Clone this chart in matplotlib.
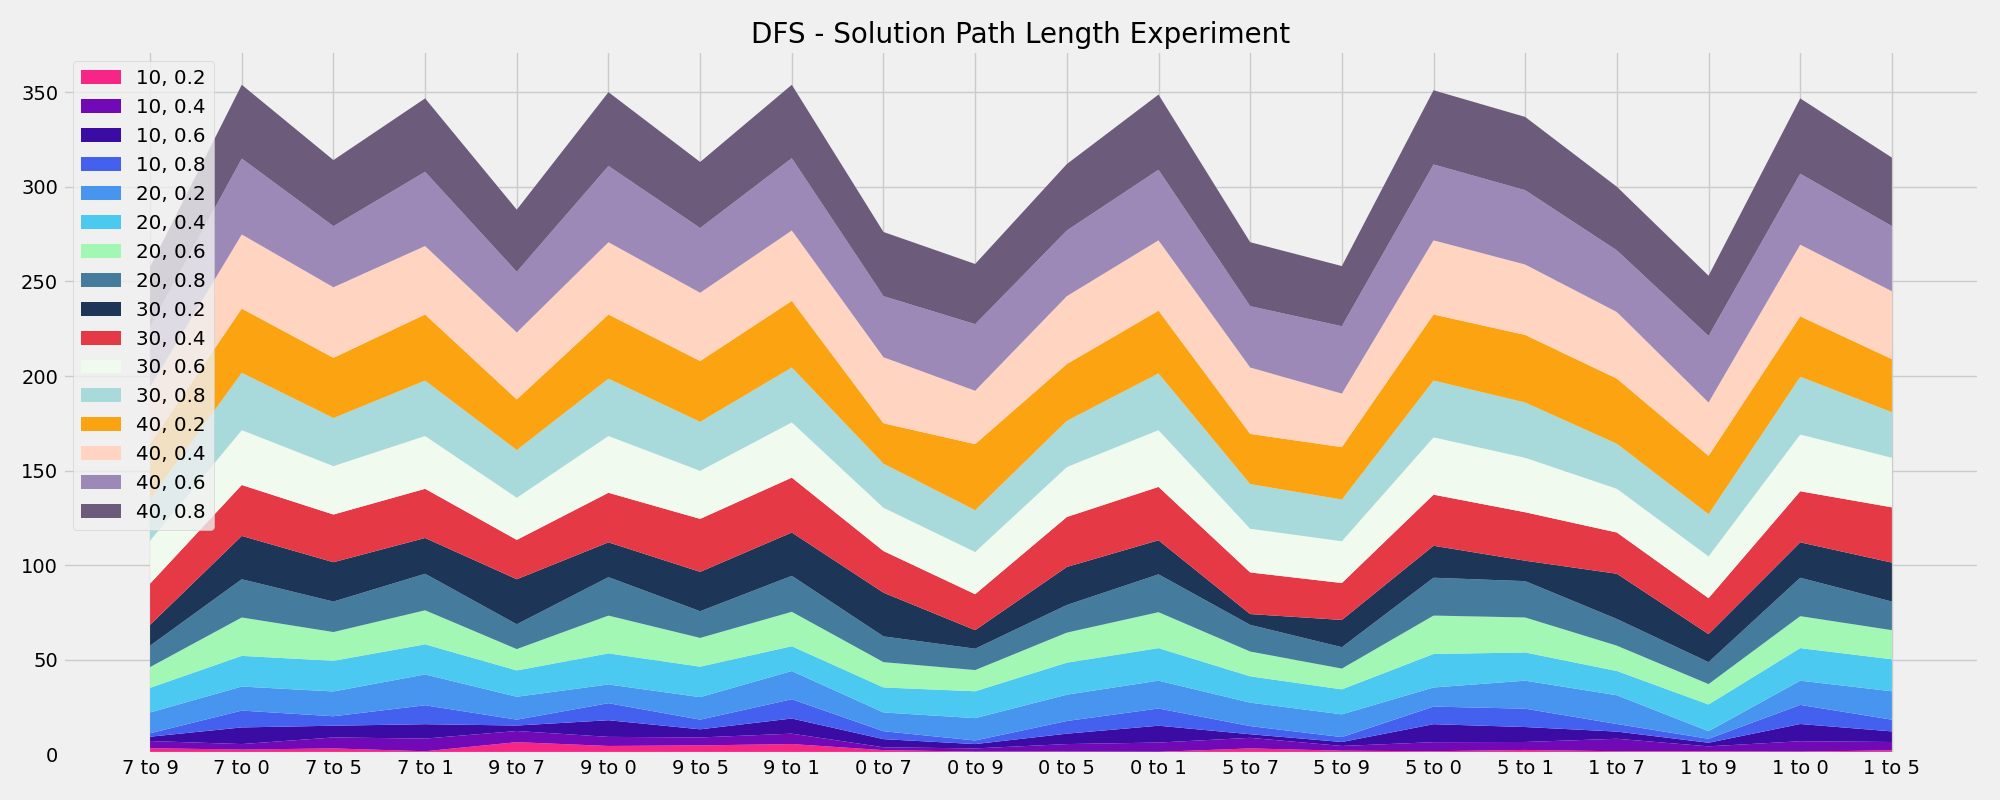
import matplotlib
matplotlib.use("Agg")
import matplotlib.pyplot as plt

plt.style.use("fivethirtyeight")

categories = ["7 to 9", "7 to 0", "7 to 5", "7 to 1", "9 to 7", "9 to 0", "9 to 5", "9 to 1",
              "0 to 7", "0 to 9", "0 to 5", "0 to 1", "5 to 7", "5 to 9", "5 to 0", "5 to 1",
              "1 to 7", "1 to 9", "1 to 0", "1 to 5"]

series_labels = ["10, 0.2", "10, 0.4", "10, 0.6", "10, 0.8",
                 "20, 0.2", "20, 0.4", "20, 0.6", "20, 0.8",
                 "30, 0.2", "30, 0.4", "30, 0.6", "30, 0.8",
                 "40, 0.2", "40, 0.4", "40, 0.6", "40, 0.8"]

s_10_02 = [3.3, 2.6, 3.2, 1.7, 6.5, 4.5, 4.8, 5.5, 2.3, 1.5, 1.5, 1.4, 3.2, 2.0, 1.7, 2.4, 1.7, 1.7, 1.5, 2.2]
s_10_04 = [3.8, 2.9, 5.8, 6.7, 5.9, 4.8, 4.2, 5.5, 1.5, 1.7, 4.0, 4.9, 5.6, 2.5, 4.8, 4.2, 6.6, 2.6, 5.5, 4.4]
s_10_06 = [2.3, 8.8, 6.2, 7.6, 2.9, 8.8, 4.3, 8.0, 4.3, 2.3, 5.5, 8.9, 1.9, 2.1, 9.5, 7.9, 3.8, 1.9, 9.1, 5.6]
s_10_08 = [1.8, 8.9, 5.0, 10.0, 3.1, 9.0, 5.1, 10.2, 4.2, 1.9, 6.7, 9.1, 4.3, 2.6, 9.3, 9.7, 4.0, 2.1, 10.1, 6.2]
s_20_02 = [11.0, 12.7, 13.1, 16.3, 12.1, 9.9, 11.9, 14.9, 9.9, 11.8, 13.9, 14.7, 12.4, 12.0, 10.1, 14.8, 15.2, 4.0, 12.8, 15.0]
s_20_04 = [13.0, 16.2, 16.2, 15.9, 13.9, 16.4, 16.1, 13.1, 13.2, 14.2, 16.9, 17.2, 13.9, 13.2, 17.7, 14.9, 12.8, 14.1, 17.2, 16.9]
s_20_06 = [11.0, 20.3, 15.2, 18.0, 11.3, 20.0, 15.2, 18.2, 13.4, 11.2, 15.9, 19.0, 13.1, 11.0, 20.3, 18.5, 13.4, 10.8, 16.9, 15.4]
s_20_08 = [11.3, 20.2, 16.1, 19.3, 13.1, 20.3, 14.1, 19.0, 13.6, 11.3, 14.6, 20.0, 14.1, 11.3, 20.0, 19.2, 14.1, 11.6, 20.3, 15.1]
s_30_02 = [11.0, 22.9, 20.8, 18.9, 23.8, 18.4, 20.8, 22.9, 23.1, 9.8, 20.1, 18.0, 5.7, 14.4, 16.9, 10.8, 23.9, 14.8, 18.7, 20.6]
s_30_04 = [21.8, 26.9, 25.2, 26.0, 20.8, 26.2, 28.0, 29.0, 22.0, 19.0, 26.4, 28.2, 22.0, 19.5, 27.0, 25.6, 21.8, 19.0, 27.0, 29.2]
s_30_06 = [22.7, 29.0, 25.6, 27.9, 22.3, 30.0, 25.4, 29.2, 22.9, 22.3, 26.4, 30.0, 23.1, 22.1, 30.3, 28.8, 23.1, 22.1, 30.0, 26.2]
s_30_08 = [22.1, 30.3, 25.4, 29.3, 25.2, 30.3, 25.9, 29.0, 23.3, 22.1, 24.4, 30.0, 23.6, 22.0, 30.0, 29.2, 23.8, 22.3, 30.5, 24.1]
s_40_02 = [29.1, 33.9, 31.8, 34.9, 26.7, 33.9, 32.1, 35.2, 21.3, 34.9, 30.0, 33.1, 26.5, 27.7, 34.9, 35.7, 34.4, 30.8, 31.9, 28.0]
s_40_04 = [30.0, 39.2, 37.3, 36.2, 35.4, 38.2, 36.1, 37.2, 34.9, 28.2, 35.9, 37.2, 35.1, 28.3, 39.2, 37.2, 35.2, 28.2, 37.9, 35.9]
s_40_06 = [31.8, 40.1, 32.3, 39.2, 32.1, 40.3, 34.2, 38.2, 32.3, 35.2, 34.7, 37.3, 32.4, 35.6, 40.1, 39.3, 32.6, 35.2, 37.5, 34.4]
s_40_08 = [31.7, 39.0, 34.9, 38.8, 32.8, 39.0, 34.9, 38.8, 33.9, 31.8, 35.1, 39.7, 33.8, 31.8, 39.2, 38.7, 33.6, 31.8, 39.8, 36.2]

colors = ["#f72585", "#7209b7", "#3a0ca3", "#4361ee",
          "#4895ef", "#4cc9f0", "#a2f7b5", "#457b9d",
          "#1d3557", "#e63946", "#f1faee", "#a8dadc",
          "#fca311", "#ffd4c0", "#9c89b8", "#6c5b7b"]

all_series = [s_10_02, s_10_04, s_10_06, s_10_08,
              s_20_02, s_20_04, s_20_06, s_20_08,
              s_30_02, s_30_04, s_30_06, s_30_08,
              s_40_02, s_40_04, s_40_06, s_40_08]

fig = plt.figure(figsize=(20, 8), dpi=100)
ax = fig.add_axes([0.0315, 0.0569, 0.958, 0.879])
x = list(range(len(categories)))
ax.stackplot(x, *all_series, labels=series_labels, colors=colors)
ax.set_xticks(x)
ax.set_xticklabels(categories)
ax.tick_params(axis="both", labelsize=14)
ax.set_title("DFS - Solution Path Length Experiment", fontsize=20)
ax.legend(loc="upper left", fontsize=14.3)
fig.savefig("out.png", dpi=100)
